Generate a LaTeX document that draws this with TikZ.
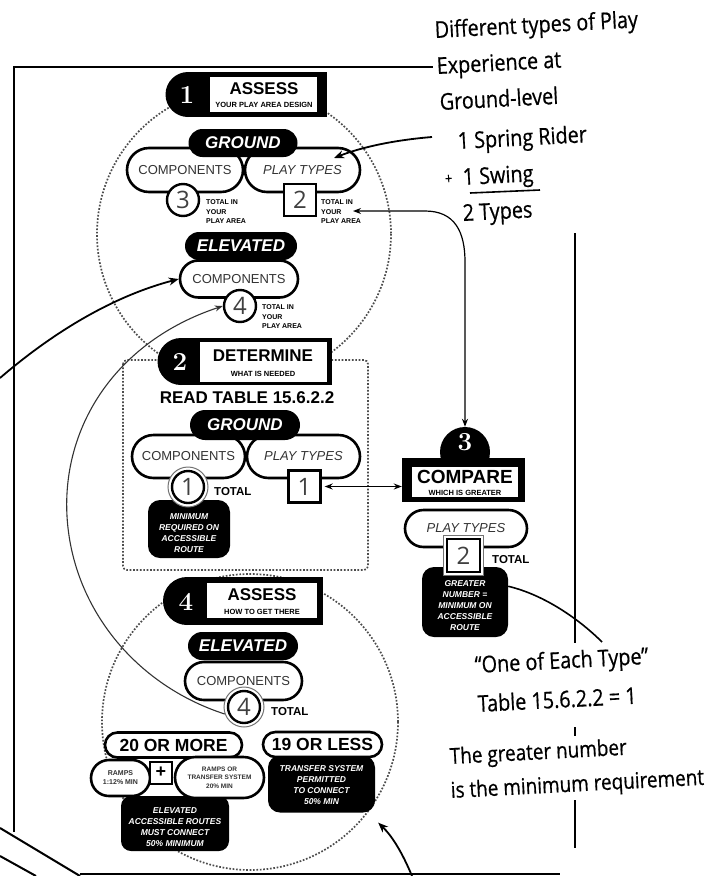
\documentclass[tikz,border=0pt]{standalone}
\usepackage{fontspec}
\usetikzlibrary{shapes.misc,arrows.meta,calc}
\newfontfamily\lab{Liberation Sans}
\newfontfamily\hand[FakeStretch=0.86,FakeBold=0.6]{Open Sans}
\newfontfamily\thn{Open Sans}
\tikzset{
  blk/.style={rounded rectangle, fill=black, text=white, inner sep=0pt, font=\lab\bfseries\itshape\fontsize{17}{17}\selectfont},
  wpill/.style={rounded rectangle, draw=black, line width=2.6pt, fill=white, inner sep=0pt, font=\lab\fontsize{13}{13}\selectfont, text=black!80},
  numc/.style={circle, draw=black, line width=2.4pt, fill=white, inner sep=0pt, minimum size=32pt, font=\thn\fontsize{24}{24}\selectfont, text=black!75},
  numb/.style={rectangle, draw=black, line width=2.4pt, fill=white, inner sep=0pt, minimum size=32pt, font=\thn\fontsize{24}{24}\selectfont, text=black!75},
  ringc/.style={circle, draw=black!55, line width=1pt, fill=white, inner sep=0pt, minimum size=40pt},
  ringb/.style={rectangle, draw=black!55, line width=1pt, fill=white, inner sep=0pt, minimum size=40pt},
  smalltxt/.style={font=\lab\bfseries\fontsize{7}{9.5}\selectfont, align=left, inner sep=0pt, anchor=west},
  totl/.style={font=\lab\bfseries\fontsize{11.5}{12}\selectfont, inner sep=0pt, anchor=west},
  blackbox/.style={rectangle, rounded corners=12pt, fill=black, inner sep=0pt},
  boxtxt/.style={text=white, align=center, inner sep=0pt, font=\lab\bfseries\itshape\fontsize{8.5}{11}\selectfont},
  stepn/.style={text=white, inner sep=0pt, font=\bfseries\fontsize{26}{26}\selectfont},
  headt/.style={font=\lab\bfseries\fontsize{17}{17}\selectfont, inner sep=0pt},
  heads/.style={font=\lab\bfseries\fontsize{7.5}{8}\selectfont, inner sep=0pt},
  hw/.style={font=\hand\fontsize{23}{23}\selectfont, anchor=base west, inner sep=0pt, rotate=3},
  dotl/.style={draw=black!70, line width=1.7pt, dash pattern=on 1.7pt off 1.7pt},
  framel/.style={draw=black, line width=2pt},
  arr/.style={draw=black, line width=1.8pt, -{Stealth[length=10pt,width=8pt]}},
  darr/.style={draw=black, line width=1.2pt, {Stealth[length=8pt,width=6pt]}-{Stealth[length=8pt,width=6pt]}},
  arcl/.style={draw=black!80, line width=1.1pt, -{Stealth[length=8pt,width=6pt]}},
}
\begin{document}
\begin{tikzpicture}[x=1pt,y=-1pt]
\useasboundingbox (0,0) rectangle (724,876);
% dotted circles and dotted frame
\draw[dotl] (244,234) circle[radius=147];
\draw[dotl] (250,722) circle[radius=148];
\draw[dotl, rounded corners=4pt] (123,360) rectangle (368,570);
% frame
\draw[framel] (14,832) -- (14,67) -- (433,67);
\draw[framel] (575,233) -- (575,643);
\draw[framel] (575,727) -- (575,736);
\draw[framel] (575,800) -- (575,848);
\draw[framel] (80,874) -- (560,874);
\draw[framel] (0,828) -- (80,876);
\draw[framel] (0,856) -- (36,876);

% ---------- Header 1
\fill (188,94.5) circle[radius=22.5];
\fill (188,72) rectangle (327,117);
\node[fill=white, minimum width=107pt, minimum height=35pt, inner sep=0pt] (h1) at (263.5,94.5) {};
\node[stepn] (n1) at (187,95) {1};
\node[headt] (h1a) at (264,89) {ASSESS};
\node[heads] (h1b) at (264,105) {YOUR PLAY AREA DESIGN};
% ground
\node[wpill, minimum width=116pt, minimum height=44pt] (c1) at (185,170) {COMPONENTS};
\node[wpill, minimum width=115pt, minimum height=44pt, font=\lab\itshape\fontsize{13}{13}\selectfont] (p1) at (302.5,170) {PLAY TYPES};
\node[blk, minimum width=109pt, minimum height=28pt] (g1) at (243,143) {GROUND};
\node[numc] (n3) at (183,200) {3};
\node[numb] (b2) at (300,200) {2};
\node[smalltxt] (tt1) at (206,212) {TOTAL IN\\YOUR\\PLAY AREA};
\node[smalltxt] (tt2) at (321,212) {TOTAL IN\\YOUR\\PLAY AREA};
% elevated
\node[wpill, minimum width=118pt, minimum height=37pt] (c1e) at (239,279) {COMPONENTS};
\node[blk, minimum width=112pt, minimum height=28pt] (e1) at (241,246) {ELEVATED};
\node[numc] (n4a) at (240,306) {4};
\node[smalltxt] (tt3) at (262,317) {TOTAL IN\\YOUR\\PLAY AREA};

% ---------- Header 2
\fill (181,361.5) circle[radius=23.5];
\fill (181,338) rectangle (332,385);
\node[fill=white, minimum width=127pt, minimum height=40pt, inner sep=0pt] (h2) at (263.5,362) {};
\node[stepn] (n2) at (180,362) {2};
\node[headt] (h2a) at (263,356) {DETERMINE};
\node[heads] (h2b) at (263,374) {WHAT IS NEEDED};
\node[font=\lab\bfseries\fontsize{17}{17}\selectfont, inner sep=0pt] (rt) at (247,398) {READ TABLE 15.6.2.2};
\node[wpill, minimum width=113pt, minimum height=43pt] (c2) at (188.5,456.5) {COMPONENTS};
\node[wpill, minimum width=113pt, minimum height=43pt, font=\lab\itshape\fontsize{13}{13}\selectfont] (p2) at (303.5,456.5) {PLAY TYPES};
\node[blk, minimum width=110pt, minimum height=30pt] (g2) at (245,425) {GROUND};
\node[blackbox, minimum width=82pt, minimum height=58pt] (mr) at (189,529) {};
\node[boxtxt] (mrt) at (189,533) {MINIMUM\\REQUIRED ON\\ACCESSIBLE\\ROUTE};
\node[ringc] (r1) at (188,487) {};
\node[numc] (n1c) at (188,487) {1};
\node[totl] (tt4) at (214,492) {TOTAL};
\node[numb] (b1) at (304.5,486.5) {1};

% ---------- Step 3
\node[circle, fill=black, minimum size=50pt, inner sep=0pt] (k3) at (465,452) {};
\node[fill=black, minimum width=123pt, minimum height=44pt, inner sep=0pt] (cb) at (463.5,480) {};
\node[fill=white, minimum width=106pt, minimum height=30pt, inner sep=0pt] (h3) at (465,482) {};
\node[stepn] (n3s) at (465,442) {3};
\node[font=\lab\bfseries\fontsize{19}{19}\selectfont, inner sep=0pt] (h3a) at (465,477) {COMPARE};
\node[heads] (h3b) at (465,493) {WHICH IS GREATER};
\node[wpill, minimum width=122pt, minimum height=37pt, font=\lab\itshape\fontsize{13}{13}\selectfont] (p3) at (466,528.5) {PLAY TYPES};
\node[blackbox, minimum width=86pt, minimum height=70pt] (gn) at (465,602) {};
\node[boxtxt] (gnt) at (465,606) {GREATER\\NUMBER =\\MINIMUM ON\\ACCESSIBLE\\ROUTE};
\node[ringb] (r3) at (463.5,555.5) {};
\node[numb, minimum size=33pt] (b3) at (463.5,555.5) {2};
\node[totl] (tt5) at (492,560) {TOTAL};

% ---------- Header 4
\fill (187,601) circle[radius=24];
\fill (187,577) rectangle (323,625);
\node[fill=white, minimum width=110pt, minimum height=35pt, inner sep=0pt] (h4) at (262,600.5) {};
\node[stepn] (n4) at (186,602) {4};
\node[headt] (h4a) at (262,595) {ASSESS};
\node[heads] (h4b) at (262,612) {HOW TO GET THERE};
\node[wpill, minimum width=117pt, minimum height=38pt] (c4) at (243.5,681) {COMPONENTS};
\node[blk, minimum width=110pt, minimum height=28pt] (e4) at (243,646) {ELEVATED};
\node[ringc] (r4) at (244,707) {};
\node[numc] (n4b) at (244,707) {4};
\node[totl] (tt6) at (271,712) {TOTAL};
% 20 or more
\node[blackbox, rounded corners=10pt, minimum width=108pt, minimum height=55pt] (eb) at (175,823.5) {};
\node[boxtxt] (ebt) at (175,827) {ELEVATED\\ACCESSIBLE ROUTES\\MUST CONNECT\\50\% MINIMUM};
\node[wpill, minimum width=137pt, minimum height=25pt, font=\lab\bfseries\fontsize{17.5}{17.5}\selectfont, text=black] (m20) at (173.5,745) {20 OR MORE};
\node[wpill, minimum width=59pt, minimum height=36pt, align=center, font=\lab\bfseries\fontsize{7}{9}\selectfont] (rp) at (120.5,778) {RAMPS\\1:12\% MIN};
\node[rectangle, draw=black, line width=2pt, fill=white, minimum size=22pt, inner sep=0pt, font=\lab\bfseries\fontsize{18}{18}\selectfont] (plus) at (161,772.5) {+};
\node[wpill, minimum width=89pt, minimum height=41pt, align=center, font=\lab\bfseries\fontsize{6.5}{8.5}\selectfont] (rt2) at (219.5,777.5) {RAMPS OR\\TRANSFER SYSTEM\\20\% MIN};
% 19 or less
\node[blackbox, minimum width=107pt, minimum height=57pt] (tb) at (321.5,784) {};
\node[boxtxt] (tbt) at (321.5,785) {TRANSFER SYSTEM\\PERMITTED\\TO CONNECT\\50\% MIN};
\node[wpill, minimum width=119pt, minimum height=25pt, font=\lab\bfseries\fontsize{17.5}{17.5}\selectfont, text=black] (l19) at (322.5,744.5) {19 OR LESS};

% ---------- Handwritten notes
\node[hw] (t1) at (435,38) {Different types of Play};
\node[hw] (t2) at (437,74) {Experience at};
\node[hw] (t3) at (440,110) {Ground-level};
\node[hw] (t4) at (458,149) {1 Spring Rider};
\node[hw, font=\hand\fontsize{15}{15}\selectfont] (tp) at (445,184) {+};
\node[hw] (t5) at (463,185) {1 Swing};
\node[hw] (t6) at (463,221) {2 Types};
\draw[line width=1.6pt] (470,193) -- (540,190);
\node[hw] (t7) at (475,673) {“One of Each Type”};
\node[hw] (t8) at (478,712) {Table 15.6.2.2 = 1};
\node[hw, font=\hand\fontsize{22}{22}\selectfont] (t9) at (450,764) {The greater number};
\node[hw, font=\hand\fontsize{22}{22}\selectfont] (t10) at (451,798) {is the minimum requirement};

% ---------- Connectors
\coordinate (s1) at (432,137);
\coordinate (s1t) at (334,158);
\draw[arr] (s1) .. controls (395,140) and (362,147) .. (s1t);
\coordinate (la) at (0,378);
\draw[arr] (la) .. controls (50,335) and (110,297) .. (c1e.west);
\coordinate (q1) at (353,211);
\draw[darr] (q1) -- (425,211) .. controls (455,211) and (465,232) .. (465,262) -- (k3.north);
\draw[darr] ($(b1.east)+(3,0)$) -- (cb.west |- b1.east);
\draw[arcl] (r4.200) .. controls (135,685) and (72,607) .. (67,516) .. controls (62,425) and (117,341) .. (n4a.west);
\coordinate (oe) at (602,642);
\draw[line width=1.6pt] (gn.20) .. controls (545,595) and (580,620) .. (oe);
\coordinate (ba) at (412,876);
\draw[arr] (ba) .. controls (402,852) and (392,836) .. ($(tb.south east)+(3,10)$);
\end{tikzpicture}
\end{document}
